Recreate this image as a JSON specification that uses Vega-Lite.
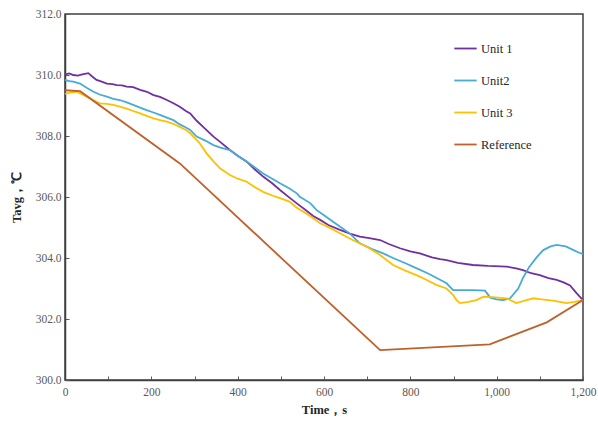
{
  "$schema": "https://vega.github.io/schema/vega-lite/v6.json",
  "width": 518,
  "height": 366,
  "autosize": {"type": "none"},
  "padding": {"left": 65, "top": 14, "right": 15, "bottom": 44},
  "background": "white",
  "config": {
    "view": {"stroke": "#404040", "strokeWidth": 1.5},
    "font": "Liberation Serif",
    "text": {"font": "Liberation Serif"},
    "legend": {"labelFont": "Liberation Serif", "titleFont": "Liberation Serif"},
    "axis": {"grid": false, "domainColor": "#404040", "domainWidth": 1.5, "tickColor": "#595959", "labelColor": "#595959", "labelFont": "Liberation Serif", "labelFontSize": 11.5, "titleFont": "Liberation Serif", "titleFontSize": 12.5, "titleFontWeight": "bold", "titleColor": "#262626"}
  },
  "datasets": {
    "u1": [
      [0,310.02],[10,310.05],[19,310.0],[30,309.98],[40,310.02],[54,310.06],[63,309.95],[73,309.84],[85,309.78],[97,309.72],[110,309.7],[120,309.67],[132,309.66],[143,309.62],[158,309.6],[174,309.51],[190,309.45],[205,309.34],[220,309.28],[236,309.18],[250,309.08],[266,308.96],[280,308.82],[290,308.74],[305,308.5],[320,308.3],[344,307.98],[360,307.8],[382,307.54],[400,307.35],[421,307.16],[440,306.9],[459,306.67],[480,306.45],[498,306.23],[520,305.98],[537,305.79],[555,305.6],[575,305.38],[591,305.25],[610,305.08],[637,304.92],[660,304.8],[683,304.7],[705,304.65],[730,304.59],[750,304.46],[776,304.32],[800,304.22],[822,304.15],[850,304.02],[869,303.96],[884,303.93],[910,303.84],[945,303.77],[980,303.74],[1023,303.72],[1045,303.66],[1061,303.6],[1080,303.5],[1100,303.44],[1120,303.34],[1139,303.28],[1155,303.2],[1170,303.1],[1185,302.85],[1200,302.62]
    ],
    "u2": [
      [0,309.84],[10,309.8],[19,309.78],[35,309.72],[50,309.58],[66,309.45],[80,309.36],[97,309.29],[112,309.22],[127,309.18],[143,309.1],[158,309.02],[174,308.93],[189,308.85],[205,308.77],[220,308.69],[236,308.6],[251,308.52],[266,308.38],[280,308.28],[290,308.2],[305,307.98],[325,307.85],[344,307.7],[360,307.62],[382,307.54],[400,307.35],[421,307.16],[440,306.97],[459,306.77],[480,306.6],[498,306.45],[520,306.28],[537,306.12],[544,306.01],[568,305.8],[583,305.57],[600,305.4],[621,305.19],[640,305.0],[660,304.8],[683,304.48],[710,304.3],[737,304.15],[760,304.0],[790,303.82],[815,303.66],[840,303.5],[860,303.35],[884,303.17],[899,302.95],[915,302.95],[945,302.95],[973,302.93],[985,302.7],[1000,302.64],[1015,302.62],[1031,302.68],[1050,303.0],[1061,303.35],[1075,303.7],[1093,304.03],[1108,304.26],[1125,304.38],[1139,304.43],[1160,304.38],[1178,304.26],[1190,304.18],[1200,304.13]
    ],
    "u3": [
      [0,309.38],[10,309.42],[27,309.45],[40,309.36],[50,309.29],[65,309.18],[81,309.07],[97,309.05],[112,309.02],[127,308.96],[143,308.9],[158,308.82],[174,308.74],[189,308.66],[205,308.58],[220,308.52],[236,308.47],[251,308.4],[266,308.3],[280,308.2],[290,308.09],[310,307.8],[328,307.43],[345,307.15],[359,306.94],[382,306.72],[400,306.6],[421,306.5],[440,306.32],[459,306.17],[480,306.05],[498,305.96],[520,305.85],[537,305.65],[560,305.45],[591,305.14],[615,304.98],[637,304.81],[665,304.6],[699,304.37],[730,304.1],[760,303.77],[790,303.58],[822,303.39],[838,303.28],[860,303.12],[884,303.0],[899,302.79],[907,302.62],[915,302.52],[935,302.56],[953,302.62],[969,302.73],[990,302.72],[1023,302.68],[1046,302.52],[1065,302.6],[1085,302.68],[1100,302.65],[1130,302.6],[1162,302.52],[1180,302.56],[1200,302.62]
    ],
    "ref": [
      [0,309.5],[35,309.47],[266,307.1],[730,300.98],[984,301.17],[1116,301.89],[1200,302.62]
    ]
  },
  "layer": [
    {
      "data": {"name": "u1"},
      "transform": [{"calculate": "'Unit 1'", "as": "s"}, {"calculate": "datum[0]", "as": "t"}, {"calculate": "datum[1]", "as": "T"}],
      "mark": {"type": "line", "strokeWidth": 1.8, "interpolate": "linear"},
      "encoding": {
        "x": {"field": "t", "type": "quantitative", "scale": {"domain": [0, 1200], "nice": false}, "axis": {"values": [0,50,100,150,200,250,300,350,400,450,500,550,600,650,700,750,800,850,900,950,1000,1050,1100,1150,1200], "labelExpr": "datum.value % 200 === 0 ? format(datum.value, ',') : ''", "tickSize": -4, "labelPadding": 10, "title": "Time，s", "titlePadding": 6, "labelFlush": false}},
        "y": {"field": "T", "type": "quantitative", "scale": {"domain": [300, 312], "nice": false, "zero": false}, "axis": {"values": [300,302,304,306,308,310,312], "format": ".1f", "tickSize": -4, "labelPadding": 8, "title": "Tavg，℃", "titlePadding": 12}},
        "color": {"field": "s", "type": "nominal", "scale": {"domain": ["Unit 1", "Unit2", "Unit 3", "Reference"], "range": ["#7030A0", "#46ABD6", "#FFC000", "#C0602A"]}, "legend": {"title": null, "orient": "none", "legendX": 388, "legendY": 22, "symbolType": "stroke", "symbolSize": 500, "symbolStrokeWidth": 1.8, "labelFont": "Liberation Serif", "labelFontSize": 12.5, "labelColor": "#262626", "rowPadding": 13, "labelOffset": 3}}
      }
    },
    {
      "data": {"name": "u2"},
      "transform": [{"calculate": "'Unit2'", "as": "s"}, {"calculate": "datum[0]", "as": "t"}, {"calculate": "datum[1]", "as": "T"}],
      "mark": {"type": "line", "strokeWidth": 1.8},
      "encoding": {
        "x": {"field": "t", "type": "quantitative"},
        "y": {"field": "T", "type": "quantitative"},
        "color": {"field": "s", "type": "nominal"}
      }
    },
    {
      "data": {"name": "u3"},
      "transform": [{"calculate": "'Unit 3'", "as": "s"}, {"calculate": "datum[0]", "as": "t"}, {"calculate": "datum[1]", "as": "T"}],
      "mark": {"type": "line", "strokeWidth": 1.8},
      "encoding": {
        "x": {"field": "t", "type": "quantitative"},
        "y": {"field": "T", "type": "quantitative"},
        "color": {"field": "s", "type": "nominal"}
      }
    },
    {
      "data": {"name": "ref"},
      "transform": [{"calculate": "'Reference'", "as": "s"}, {"calculate": "datum[0]", "as": "t"}, {"calculate": "datum[1]", "as": "T"}],
      "mark": {"type": "line", "strokeWidth": 1.8},
      "encoding": {
        "x": {"field": "t", "type": "quantitative"},
        "y": {"field": "T", "type": "quantitative"},
        "color": {"field": "s", "type": "nominal"}
      }
    }
  ]
}
